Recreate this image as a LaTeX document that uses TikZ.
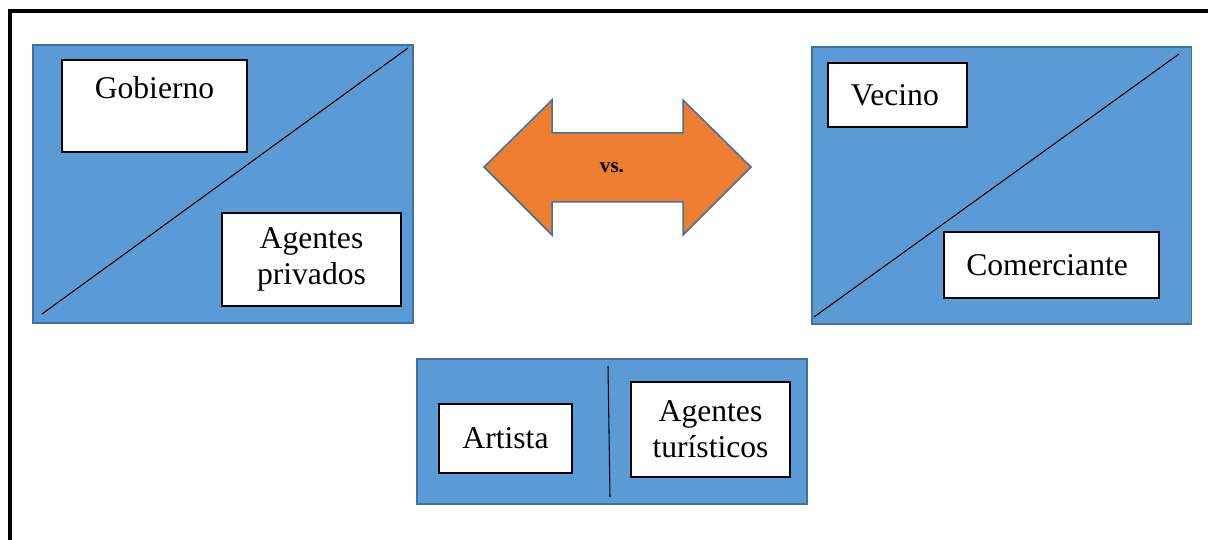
\documentclass[tikz,border=0pt]{standalone}
\usepackage{fontspec}
\setmainfont{Liberation Serif}
\usepackage{tikz}
\usetikzlibrary{positioning}

\definecolor{panelblue}{HTML}{5B9BD5}
\definecolor{edgeblue}{HTML}{41719C}
\definecolor{vsorange}{HTML}{ED7D31}

\begin{document}
\begin{tikzpicture}[x=0.02cm, y=-0.02cm,
    panel/.style={draw=edgeblue, fill=panelblue, line width=1.1pt, inner sep=0pt},
    card/.style={draw=black, fill=white, line width=0.85pt, align=center,
      font=\fontsize{18}{20.5}\selectfont},
    split/.style={black, line width=0.6pt}]
  \useasboundingbox (0,0) rectangle (1208,540);
  \draw[line width=0.08cm, line join=miter] (1208,11.5) -- (10,11.5) -- (10,540);

  % left panel
  \node[panel, minimum width=7.6cm, minimum height=5.56cm] (gov) at (223,184) {};
  \draw[split] (42,314) -- (408,48);
  \node[card, minimum width=3.7cm, minimum height=1.84cm] (gobierno) at (154.5,106) {Gobierno\\\mbox{}};
  \node[card, minimum width=3.58cm, minimum height=1.86cm] (privados) at (311.5,259.5) {Agentes\\privados};

  % double arrow
  \draw[draw=edgeblue, fill=vsorange, line width=0.85pt, line join=miter]
    (484,167) -- (552,100) -- (552,133) -- (683,133) -- (683,100) -- (751,167)
    -- (683,235) -- (683,202) -- (552,202) -- (552,235) -- cycle;
  \node[font=\fontsize{12}{14}\selectfont\bfseries] (vs) at (612,167.5) {vs.};

  % right panel
  \node[panel, minimum width=7.6cm, minimum height=5.54cm] (barrio) at (1001.5,185.5) {};
  \draw[split] (814,317) -- (1179,54);
  \node[card, minimum width=2.78cm, minimum height=1.28cm] (vecino) at (897.5,95) {Vecino\hspace{3pt}};
  \node[card, minimum width=4.3cm, minimum height=1.32cm] (comerciante) at (1051.5,265) {Comerciante\hspace{5pt}};

  % bottom panel
  \node[panel, minimum width=7.8cm, minimum height=2.9cm] (turismo) at (612,431.5) {};
  \draw[split] (608,366) -- (610,497);
  \node[card, minimum width=2.66cm, minimum height=1.38cm] (artista) at (505.5,438.5) {Artista};
  \node[card, minimum width=3.18cm, minimum height=1.9cm] (turisticos) at (710.5,429.5) {Agentes\\turísticos};
\end{tikzpicture}
\end{document}
